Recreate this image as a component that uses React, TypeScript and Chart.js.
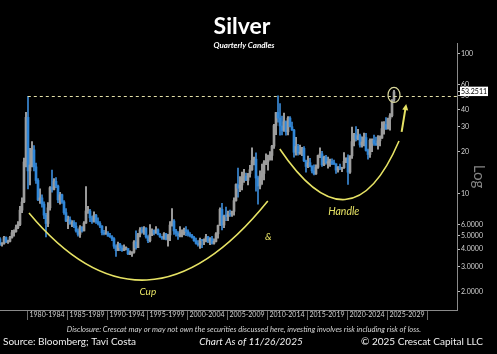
import { useEffect, useRef } from 'react';
import { Chart, registerables } from 'chart.js';

Chart.register(...registerables);

// ---- Data (quarterly candles, starting 1976 Q3) ----
const firstYear = 1976;
const firstQuarter = 3;
const firstOpen = 4.75;

const closes = [
  4.35, 4.37,
  4.85, 4.5, 4.55, 4.85,
  5.25, 5.35, 5.7, 6.0,
  7.6, 8.7, 16.8, 35.0,
  14.5, 16.0, 20.5, 15.5,
  12.4, 9.0, 9.3, 8.4,
  7.0, 6.1, 7.9, 11.0,
  10.7, 12.2, 11.3, 9.0,
  9.8, 8.7, 7.3, 6.35,
  6.5, 6.1, 6.2, 5.85,
  5.4, 5.1, 5.75, 5.4,
  6.15, 7.5, 7.5, 6.7,
  6.3, 7.0, 6.3, 6.1,
  5.85, 5.25, 5.15, 5.2,
  4.95, 4.9, 4.75, 4.2,
  3.9, 4.35, 4.1, 3.9,
  4.05, 4.05, 3.7, 3.7,
  3.8, 4.5, 4.1, 5.1,
  5.5, 5.3, 5.65, 4.9,
  4.6, 5.1, 5.45, 5.2,
  5.5, 5.1, 4.9, 4.8,
  5.15, 4.7, 5.05, 5.95,
  6.35, 5.4, 5.2, 5.0,
  5.15, 5.25, 5.5, 5.35,
  5.1, 5.0, 4.85, 4.6,
  4.4, 4.3, 4.65, 4.6,
  4.6, 4.9, 4.55, 4.75,
  4.4, 4.55, 5.15, 5.9,
  7.7, 5.95, 6.9, 6.85,
  7.15, 7.1, 7.45, 8.9,
  11.6, 10.9, 11.5, 12.9,
  13.3, 12.4, 13.9, 14.8,
  17.2, 17.6, 12.9, 11.3,
  13.1, 13.9, 16.6, 16.9,
  17.5, 18.7, 21.8, 30.6,
  37.9, 34.6, 30.4, 28.2,
  32.6, 27.6, 34.6, 30.0,
  28.4, 19.7, 21.7, 19.4,
  19.7, 21.0, 17.1, 15.6,
  16.6, 15.6, 14.5, 13.8,
  15.4, 18.7, 19.2, 16.0,
  18.2, 16.6, 16.6, 16.9,
  16.4, 16.3, 14.7, 15.5,
  15.1, 15.3, 17.0, 17.9,
  14.2, 18.6, 23.5, 26.4,
  24.5, 25.9, 22.2, 23.3,
  25.1, 20.3, 19.0, 24.0,
  24.1, 22.8, 22.2, 23.8,
  24.9, 29.1, 31.1, 28.9,
  34.1, 36.0, 46.6, 53.25,
];

const highs = [
  4.85, 4.45,
  4.95, 4.9, 4.65, 4.95,
  5.45, 5.5, 5.95, 6.3,
  8.1, 9.3, 17.9, 38.0,
  49.5, 21.0, 23.5, 22.0,
  16.5, 12.8, 10.8, 9.8,
  8.7, 7.2, 8.6, 11.2,
  14.7, 12.8, 13.0, 11.5,
  10.2, 9.9, 8.9, 7.8,
  6.9, 6.8, 6.4, 6.4,
  6.2, 5.6, 5.9, 5.8,
  6.3, 11.2, 8.1, 7.7,
  6.9, 7.4, 7.1, 6.7,
  6.3, 5.9, 5.45, 5.8,
  5.35, 5.2, 5.0, 4.85,
  4.3, 4.5, 4.4, 4.25,
  4.3, 4.15, 4.0, 3.9,
  3.85, 4.6, 5.4, 5.2,
  5.7, 5.75, 5.8, 5.7,
  5.0, 6.0, 5.6, 5.5,
  5.8, 5.6, 5.2, 4.95,
  5.25, 5.2, 5.1, 6.3,
  7.8, 6.5, 5.55, 5.35,
  5.8, 5.5, 5.65, 5.8,
  5.5, 5.25, 5.1, 4.95,
  4.8, 4.6, 4.8, 4.7,
  4.75, 5.1, 4.95, 4.85,
  4.95, 4.75, 5.25, 5.95,
  7.9, 8.5, 7.0, 8.0,
  7.5, 7.6, 7.5, 9.3,
  11.7, 15.2, 13.2, 14.2,
  14.9, 14.0, 13.9, 15.9,
  21.2, 18.2, 19.5, 13.3,
  14.5, 16.2, 17.2, 19.2,
  18.8, 19.9, 22.1, 31.2,
  38.0, 49.8, 44.0, 35.7,
  37.5, 33.0, 35.4, 35.4,
  32.4, 28.8, 25.2, 22.5,
  22.2, 21.4, 21.6, 17.3,
  18.5, 17.8, 15.8, 16.0,
  16.0, 18.8, 21.2, 20.0,
  18.5, 18.7, 18.2, 17.6,
  17.7, 17.3, 16.3, 15.6,
  16.2, 15.4, 19.6, 18.0,
  18.9, 18.6, 29.8, 26.9,
  30.1, 28.8, 26.6, 25.4,
  27.0, 26.9, 20.8, 24.6,
  24.6, 26.1, 25.3, 25.9,
  25.8, 32.5, 32.7, 34.9,
  34.6, 37.3, 46.9, 54.5,
];

const lows = [
  4.25, 4.2,
  4.35, 4.45, 4.4, 4.5,
  4.8, 4.95, 5.3, 5.6,
  5.9, 7.3, 8.6, 15.5,
  10.8, 11.5, 15.5, 14.5,
  11.8, 8.9, 8.5, 8.0,
  6.6, 4.9, 5.8, 7.6,
  10.2, 10.6, 11.0, 8.6,
  8.4, 8.5, 7.1, 6.3,
  5.6, 6.0, 5.8, 5.7,
  5.3, 4.95, 4.85, 5.3,
  5.4, 6.1, 7.2, 6.3,
  6.1, 6.25, 6.1, 5.95,
  5.7, 5.05, 5.05, 5.1,
  4.95, 4.85, 4.6, 4.05,
  3.55, 3.9, 3.9, 3.85,
  3.95, 3.95, 3.65, 3.65,
  3.55, 3.75, 4.0, 4.1,
  4.9, 5.2, 5.1, 4.8,
  4.45, 4.5, 5.0, 5.05,
  5.2, 5.05, 4.85, 4.7,
  4.7, 4.65, 4.2, 4.6,
  5.85, 5.1, 4.95, 4.7,
  4.9, 4.9, 5.05, 5.0,
  4.95, 4.9, 4.8, 4.55,
  4.35, 4.2, 4.05, 4.1,
  4.3, 4.5, 4.45, 4.3,
  4.35, 4.35, 4.5, 4.8,
  5.95, 5.5, 5.7, 6.4,
  6.4, 6.85, 6.85, 7.0,
  8.8, 9.4, 10.3, 10.6,
  12.0, 12.4, 11.5, 13.1,
  14.6, 16.0, 10.4, 8.4,
  10.8, 11.6, 12.5, 16.1,
  14.7, 17.3, 17.3, 21.0,
  26.3, 32.3, 26.1, 26.2,
  27.8, 26.1, 26.2, 29.9,
  28.2, 18.2, 18.8, 18.8,
  19.0, 18.6, 16.9, 14.2,
  15.3, 15.5, 14.0, 13.6,
  13.7, 15.1, 18.0, 15.6,
  15.8, 16.2, 15.2, 15.6,
  16.1, 16.1, 13.9, 14.2,
  14.8, 14.3, 15.1, 16.6,
  11.6, 13.9, 17.8, 21.9,
  23.8, 24.1, 21.4, 21.4,
  21.9, 20.1, 17.6, 18.1,
  19.9, 22.1, 22.1, 20.7,
  21.9, 24.8, 26.5, 28.7,
  28.9, 28.3, 35.3, 45.5,
];

const periodLabels = [
  '1980-1984', '1985-1989', '1990-1994', '1995-1999', '2000-2004',
  '2005-2009', '2010-2014', '2015-2019', '2020-2024', '2025-2029',
];
const periodFirstYear = 1980;
const periodLength = 5;

const yTickValues = [2, 3, 4, 5, 6, 10, 20, 30, 40, 50, 60, 100];
const lastPrice = 53.2511;
const priorPeak = 49.7;

// axis range
const xMin = 1976.625;
const xMax = 2033.75;
const yMin = 1.47;
const yMax = 119;

// annotation anchors (year, price)
const cupCurve = { start: [1980.25, 7.25], control: [1994.8, 0.724], end: [2010.1, 8.83] };
const handleCurve = { start: [2011.6, 20.8], control: [2020.45, 3.69], end: [2026.5, 23.7] };
const breakoutArrow = { from: [2026.83, 27.6], to: [2027.4, 43.6] };
const circleCenter = [2025.875, 50.6];
const cupLabel = [1995.1, 1.97];
const andLabel = [2010.15, 4.88];
const handleLabel = [2019.6, 7.37];

// ---- derived candle tables ----
const quarterX = closes.map((_, i) => firstYear + (firstQuarter - 1) * 0.25 + i * 0.25 + 0.125);
const opens = closes.map((_, i) => (i === 0 ? firstOpen : closes[i - 1]));
const isUp = closes.map((c, i) => c >= opens[i]);

const UP_BODY = '#9d9d9d';
const DOWN_BODY = '#2f86d8';
const UP_WICK = '#b9b9b9';
const DOWN_WICK = '#3b8ad6';
const YELLOW = '#e6e264';

const FONT = 'Lato, "Open Sans", sans-serif';

const annotationPlugin = {
  id: 'cupHandle',
  afterDatasetsDraw(chart: any) {
    const { ctx, chartArea, scales } = chart;
    const xs = scales.x;
    const ys = scales.y;
    const P = (p: number[]) => [xs.getPixelForValue(p[0]), ys.getPixelForValue(p[1])];
    ctx.save();
    // dashed prior-peak line
    const yy = Math.round(ys.getPixelForValue(priorPeak)) + 0.5;
    ctx.beginPath();
    ctx.setLineDash([3, 3]);
    ctx.strokeStyle = '#e4e0a8';
    ctx.lineWidth = 1;
    ctx.moveTo(xs.getPixelForValue(1980.1), yy);
    ctx.lineTo(chartArea.right, yy);
    ctx.stroke();
    ctx.setLineDash([]);

    // curves
    ctx.strokeStyle = YELLOW;
    ctx.lineWidth = 1.6;
    for (const c of [cupCurve, handleCurve]) {
      const s = P(c.start);
      const k = P(c.control);
      const e = P(c.end);
      ctx.beginPath();
      ctx.moveTo(s[0], s[1]);
      ctx.quadraticCurveTo(k[0], k[1], e[0], e[1]);
      ctx.stroke();
    }

    // arrow
    const a0 = P(breakoutArrow.from);
    const a1 = P(breakoutArrow.to);
    const ang = Math.atan2(a1[1] - a0[1], a1[0] - a0[0]);
    ctx.lineWidth = 2;
    ctx.beginPath();
    ctx.moveTo(a0[0], a0[1]);
    ctx.lineTo(a1[0] - Math.cos(ang) * 4, a1[1] - Math.sin(ang) * 4);
    ctx.stroke();
    ctx.fillStyle = YELLOW;
    ctx.beginPath();
    ctx.moveTo(a1[0], a1[1]);
    ctx.lineTo(a1[0] - Math.cos(ang) * 6 + Math.sin(ang) * 3, a1[1] - Math.sin(ang) * 6 - Math.cos(ang) * 3);
    ctx.lineTo(a1[0] - Math.cos(ang) * 6 - Math.sin(ang) * 3, a1[1] - Math.sin(ang) * 6 + Math.cos(ang) * 3);
    ctx.closePath();
    ctx.fill();

    // circle around last candle
    const cc = P(circleCenter);
    ctx.strokeStyle = '#d8d69a';
    ctx.lineWidth = 1.2;
    ctx.beginPath();
    ctx.ellipse(cc[0], cc[1], 6, 7.5, 0, 0, Math.PI * 2);
    ctx.stroke();

    // labels
    ctx.fillStyle = YELLOW;
    ctx.textAlign = 'center';
    ctx.textBaseline = 'middle';
    ctx.font = `italic 10px ${FONT}`;
    let p = P(cupLabel);
    ctx.fillText('Cup', p[0], p[1]);
    p = P(andLabel);
    ctx.fillText('&', p[0], p[1]);
    p = P(handleLabel);
    ctx.font = `italic 10.5px ${FONT}`;
    ctx.fillText('Handle', p[0], p[1]);
    ctx.restore();
  },
  afterDraw(chart: any) {
    const { ctx } = chart;
    ctx.save();
    ctx.textBaseline = 'alphabetic';
    ctx.textAlign = 'center';
    ctx.fillStyle = '#ffffff';
    ctx.font = `bold 23px ${FONT}`;
    ctx.fillText('Silver', 242, 34);
    ctx.font = `italic bold 8px ${FONT}`;
    ctx.fillText('Quarterly Candles', 244, 48);

    ctx.fillStyle = '#d6d6d6';
    ctx.font = `italic 7.6px ${FONT}`;
    ctx.fillText(
      'Disclosure: Crescat may or may not own the securities discussed here, investing involves risk including risk of loss.',
      244,
      332
    );
    ctx.fillStyle = '#f0f0f0';
    ctx.font = `10px ${FONT}`;
    ctx.textAlign = 'left';
    ctx.fillText('Source: Bloomberg; Tavi Costa', 3, 345);
    ctx.textAlign = 'center';
    ctx.font = `italic 10px ${FONT}`;
    ctx.fillText('Chart As of 11/26/2025', 251, 345);
    ctx.textAlign = 'right';
    ctx.font = `10px ${FONT}`;
    ctx.fillText('\u00A9 2025 Crescat Capital LLC', 483, 345);
    ctx.restore();
  },
};

export default function App() {
  const ref = useRef<HTMLCanvasElement>(null);

  useEffect(() => {
    const canvas = ref.current;
    if (!canvas) return;
    const wickData = quarterX.map((x, i) => ({ x, y: [lows[i], highs[i]] }));
    const bodyData = quarterX.map((x, i) => ({
      x,
      y: [Math.min(opens[i], closes[i]), Math.max(opens[i], closes[i])],
    }));
    const periodTicks: number[] = [];
    for (let i = 0; i <= periodLabels.length; i++) {
      periodTicks.push(periodFirstYear + i * periodLength);
      if (i < periodLabels.length) periodTicks.push(periodFirstYear + i * periodLength + periodLength / 2);
    }

    const chart = new Chart(canvas, {
      type: 'bar',
      data: {
        datasets: [
          {
            label: 'Wick',
            data: wickData as any,
            backgroundColor: isUp.map((u) => (u ? UP_WICK : DOWN_WICK)),
            barThickness: 1,
            stack: 'candle',
            borderWidth: 0,
            order: 2,
          } as any,
          {
            label: 'Body',
            data: bodyData as any,
            backgroundColor: isUp.map((u) => (u ? UP_BODY : DOWN_BODY)),
            barThickness: 2,
            minBarLength: 1,
            stack: 'candle',
            borderWidth: 0,
            order: 1,
          } as any,
        ],
      },
      options: {
        responsive: false,
        animation: false,
        events: [],
        layout: { padding: { top: 43, left: 0, right: 0, bottom: 34 } },
        plugins: { legend: { display: false }, tooltip: { enabled: false }, title: { display: false } },
        scales: {
          x: {
            type: 'linear',
            min: xMin,
            max: xMax,
            offset: false,
            afterBuildTicks: (s: any) => {
              s.ticks = periodTicks.map((v) => ({ value: v }));
            },
            afterFit: (s: any) => {
              s.height = 10;
            },
            border: { display: true, color: '#8a8a8a', width: 1 },
            grid: {
              offset: false,
              drawOnChartArea: false,
              drawTicks: true,
              tickLength: 10,
              color: (c: any) =>
                c.tick && (c.tick.value - periodFirstYear) % periodLength === 0 ? '#6c6c6c' : 'rgba(0,0,0,0)',
            },
            ticks: {
              autoSkip: false,
              maxRotation: 0,
              minRotation: 0,
              padding: -9,
              color: '#d2d2d2',
              font: { family: FONT, size: 7 },
              callback: (v: any) => {
                const off = v - periodFirstYear;
                if (off % periodLength === periodLength / 2) return periodLabels[Math.floor(off / periodLength)];
                return '';
              },
            },
          },
          y: {
            type: 'logarithmic',
            position: 'right',
            min: yMin,
            max: yMax,
            stacked: false,
            afterBuildTicks: (s: any) => {
              s.ticks = [...yTickValues, lastPrice].map((v) => ({ value: v }));
            },
            afterFit: (s: any) => {
              s.width = 40;
            },
            border: { display: true, color: '#8a8a8a', width: 1 },
            grid: { drawOnChartArea: false, drawTicks: true, tickLength: 3, color: '#bdbdbd' },
            title: {
              display: true,
              text: 'Log',
              color: '#858585',
              font: { family: FONT, size: 15 },
              padding: { top: 9, bottom: 0 },
            },
            ticks: {
              autoSkip: false,
              padding: 1,
              font: { family: FONT, size: 7 },
              color: (c: any) => (c.tick && c.tick.value === lastPrice ? '#000000' : '#d2d2d2'),
              showLabelBackdrop: (c: any) => !!(c.tick && c.tick.value === lastPrice),
              backdropColor: '#ffffff',
              backdropPadding: { top: 1, bottom: 0, left: 1, right: 1 },
              callback: (v: any) => {
                if (v === lastPrice) return lastPrice.toFixed(4);
                if (v < 10) return Number(v).toFixed(4);
                return String(v);
              },
            } as any,
          },
        },
      } as any,
      plugins: [annotationPlugin],
    });
    return () => chart.destroy();
  }, []);

  return (
    <div style={{ position: 'fixed', left: 0, top: 0, width: 497, height: 354, background: '#000' }}>
      <canvas ref={ref} width={497} height={354} style={{ display: 'block', width: 497, height: 354 }} />
    </div>
  );
}
